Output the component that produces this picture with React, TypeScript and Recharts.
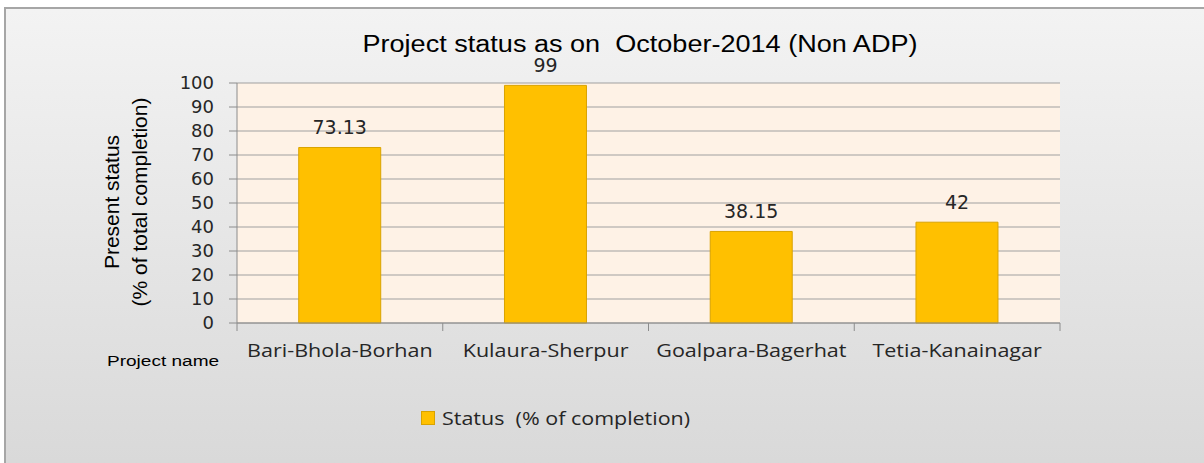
import React from 'react';
import { BarChart, Bar, XAxis, YAxis, CartesianGrid, LabelList, Legend, Customized } from 'recharts';

const projects = ['Bari-Bhola-Borhan', 'Kulaura-Sherpur', 'Goalpara-Bagerhat', 'Tetia-Kanainagar'];
const status = [73.13, 99, 38.15, 42];
const yTicks = [0, 10, 20, 30, 40, 50, 60, 70, 80, 90, 100];

const chartTitle = 'Project status as on  October-2014 (Non ADP)';
const seriesName = 'Status  (% of completion)';
const yLabel1 = 'Present status';
const yLabel2 = '(% of total completion)';
const xLabel = 'Project name';

const data = projects.map((p, i) => ({ name: p, value: status[i] }));

const ARIAL = '"Liberation Sans", Arial, sans-serif';
const WIDE = '"DejaVu Sans", sans-serif';
const CAL = '"Open Sans", sans-serif';

const XTick = (props: any) => {
  const { x, y, payload, index, width } = props;
  const band = width / projects.length;
  const left = x - band / 2;
  return (
    <g>
      <line x1={left} y1={y - 8} x2={left} y2={y} stroke="#8C8C8C" strokeWidth={1} />
      {index === projects.length - 1 && (
        <line x1={left + band} y1={y - 8} x2={left + band} y2={y} stroke="#8C8C8C" strokeWidth={1} />
      )}
      <text
        transform={`translate(${x} ${y + 26}) scale(1.165 1)`}
        textAnchor="middle"
        fontFamily={CAL}
        fontSize={18.5}
        fill="#262626"
      >
        {payload.value}
      </text>
    </g>
  );
};

const Decor = () => (
  <g>
    <text
      x={640}
      y={52}
      textAnchor="middle"
      fontFamily={ARIAL}
      fontSize={23}
      fill="#000"
      xmlSpace="preserve"
      style={{ whiteSpace: 'pre' }}
      textLength={555}
      lengthAdjust="spacingAndGlyphs"
    >
      {chartTitle}
    </text>
    <text transform="translate(119,202) rotate(-90)" textAnchor="middle" fontFamily={ARIAL} fontSize={21} fill="#000">
      {yLabel1}
    </text>
    <text transform="translate(147,202) rotate(-90)" textAnchor="middle" fontFamily={ARIAL} fontSize={21} fill="#000">
      {yLabel2}
    </text>
    <text transform="translate(107 366) scale(1.27 1)" fontFamily={ARIAL} fontSize={15} fill="#000">
      {xLabel}
    </text>
  </g>
);

const LegendContent = () => (
  <div style={{ display: 'flex', alignItems: 'center', fontFamily: CAL, fontSize: 19, color: '#262626', whiteSpace: 'pre' }}>
    <span style={{ display: 'inline-block', width: 12, height: 12, background: '#FFC000', border: '1px solid #D9A300', marginRight: 7 }} />
    <span style={{ display: 'inline-block', transform: 'scaleX(1.13)', transformOrigin: 'left center' }}>{seriesName}</span>
  </div>
);

export default function App() {
  return (
    <div style={{ position: 'absolute', left: 0, top: 0, width: 1204, height: 463, overflow: 'hidden', background: '#fff' }}>
      <div
        style={{
          position: 'absolute',
          left: 4,
          top: 7,
          width: 1210,
          height: 470,
          border: '2px solid #A6A6A6',
          background: 'linear-gradient(#F3F3F3, #D8D8D8)',
        }}
      />
      <div style={{ position: 'absolute', left: 0, top: 0 }}>
        <BarChart
          width={1204}
          height={463}
          data={data}
          margin={{ top: 83, right: 144, bottom: 100, left: 0 }}
          barCategoryGap="30%"
        >
          <CartesianGrid
            vertical={false}
            stroke="#A0A0A0"
            strokeWidth={1.2}
            fill="#FEF2E6"
            fillOpacity={1}
          />
          <XAxis
            dataKey="name"
            height={40}
            axisLine={{ stroke: '#8C8C8C' }}
            tickLine={false}
            tick={<XTick />}
            interval={0}
          />
          <YAxis
            width={237}
            domain={[0, 100]}
            ticks={yTicks}
            interval={0}
            tickSize={8}
            tickMargin={15}
            axisLine={{ stroke: '#8C8C8C' }}
            tickLine={{ stroke: '#8C8C8C' }}
            tick={{ fontFamily: WIDE, fontSize: 18, fill: '#262626' }}
          />
          <Bar dataKey="value" name={seriesName} fill="#FFC000" stroke="#D9A300" strokeWidth={1} isAnimationActive={false}>
            <LabelList dataKey="value" position="top" offset={13} fontFamily={WIDE} fontSize={19} fill="#262626" />
          </Bar>
          <Legend
            verticalAlign="middle"
            align="center"
            content={<LegendContent />}
            wrapperStyle={{ position: 'absolute', left: 421, top: 405, width: 'auto', height: 'auto' }}
          />
          <Customized component={Decor} />
        </BarChart>
      </div>
    </div>
  );
}
